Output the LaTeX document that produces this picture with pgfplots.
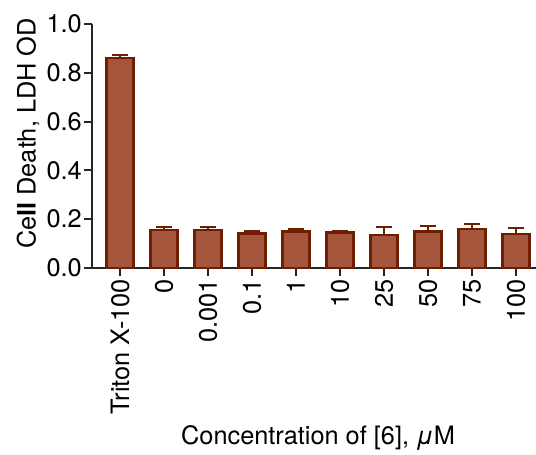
\documentclass[border=0pt]{standalone}
\usepackage{fontspec}
\setmainfont{TeX Gyre Heros}
\usepackage{pgfplots}
\pgfplotsset{compat=1.18}
\usepackage{pgfplotstable}
\definecolor{barfill}{HTML}{A5553C}
\definecolor{baredge}{HTML}{6E1E00}
\pgfplotstableread{
x y err
0 0.861 0.012
1 0.156 0.011
2 0.156 0.011
3 0.142 0.010
4 0.149 0.012
5 0.145 0.008
6 0.135 0.034
7 0.149 0.024
8 0.160 0.019
9 0.139 0.025
}\datatable
\newcommand{\fs}{\fontsize{19}{22.5}\selectfont}
\begin{document}
\begin{tikzpicture}
\begin{axis}[
  scale only axis,
  width=333pt, height=183pt,
  xmin=-0.636, xmax=9.455,
  ymin=0, ymax=1,
  axis x line*=bottom, axis y line*=left,
  axis line style={line width=1.5pt, black!85},
  tick style={line width=1.5pt, black!85},
  tick align=outside,
  major tick length=6pt,
  xtick={0,...,9},
  xticklabels={Triton X-100,0,0.001,0.1,1,10,25,50,75,100},
  xticklabel style={rotate=90, anchor=east, font=\fs, inner sep=2pt},
  ytick={0,0.2,0.4,0.6,0.8,1.0},
  yticklabel style={font=\fs, inner sep=1.5pt, /pgf/number format/.cd, fixed, fixed zerofill, precision=1, assume math mode=true},
  ylabel={Ce\textbf{ll} Death, LDH OD},
  ylabel style={at={([xshift=-48pt]axis description cs:0,0.551)}, anchor=center, rotate=0, font=\fs},
  xlabel={Concentration of [6], \textit{μ}M},
  xlabel style={at={([yshift=-127.5pt]axis description cs:0.509,0)}, anchor=center, font=\fs},
  clip=false,
]
\coordinate (O) at (rel axis cs:0,0);
\addplot[ybar, bar width=20.25pt, fill=barfill, draw=baredge, line width=2pt,
  error bars/.cd, y dir=plus, y explicit,
  error bar style={color=baredge, line width=1.5pt},
  error mark options={rotate=90, mark size=6pt, line width=1.5pt, baredge}]
  table[x=x, y=y, y error=err] {\datatable};
\end{axis}
\pgfresetboundingbox
\path ([xshift=-69pt,yshift=-139.5pt]O) rectangle ([xshift=333pt,yshift=201pt]O);
\end{tikzpicture}
\end{document}
